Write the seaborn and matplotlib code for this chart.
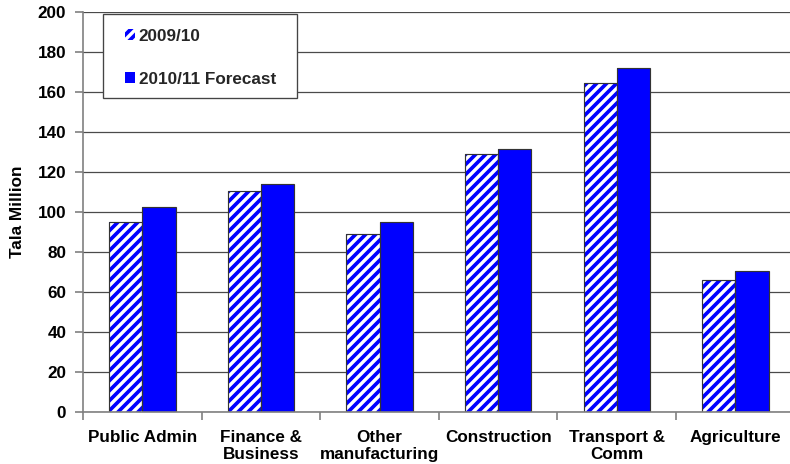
import matplotlib
matplotlib.use("Agg")
import matplotlib.pyplot as plt
import seaborn as sns
import pandas as pd
from matplotlib.patches import Rectangle
from matplotlib.ticker import FixedLocator

# ---- data ----
categories = ["Public Admin", "Finance &\nBusiness", "Other\nmanufacturing",
              "Construction", "Transport &\nComm", "Agriculture"]
series_names = ["2009/10", "2010/11 Forecast"]
values_2009_10 = [95, 110.5, 89, 129, 164.5, 66]
values_2010_11 = [102.5, 114, 95, 131.5, 172, 70.5]
y_ticks = list(range(0, 201, 20))

df = pd.DataFrame({
    "Sector": categories * 2,
    "Series": [series_names[0]] * len(categories) + [series_names[1]] * len(categories),
    "Value": values_2009_10 + values_2010_11,
})

BLUE = "#0000FF"
EDGE = "#333333"
FS = 10.3

sns.set_theme(style="white")
plt.rcParams['font.family'] = ['Liberation Sans', 'DejaVu Sans']
plt.rcParams['font.weight'] = 'bold'
plt.rcParams['hatch.linewidth'] = 2.2

DPI = 120
fig = plt.figure(figsize=(790 / DPI, 464 / DPI), dpi=DPI)
ax = fig.add_axes([83 / 790, 1 - 411.5 / 464, 707 / 790, (411.5 - 12) / 464])

# fill layer
sns.barplot(data=df, x="Sector", y="Value", hue="Series", order=categories,
            hue_order=series_names, palette=["white", BLUE], width=0.56,
            saturation=1, linewidth=0, legend=False, ax=ax, errorbar=None)
for p in ax.containers[0]:
    p.set_facecolor("white")
    p.set_edgecolor(BLUE)
    p.set_hatch("////")
    p.set_linewidth(0)
for p in ax.containers[1]:
    p.set_edgecolor(BLUE)
    p.set_linewidth(0)

# outline layer
sns.barplot(data=df, x="Sector", y="Value", hue="Series", order=categories,
            hue_order=series_names, palette=["white", BLUE], width=0.56,
            saturation=1, linewidth=0.7, legend=False, ax=ax, errorbar=None)
for cont in ax.containers[2:]:
    for p in cont:
        p.set_facecolor("none")
        p.set_edgecolor(EDGE)
        p.set_linewidth(0.7)

ax.set_axisbelow(True)
ax.set_xlim(-0.5, 5.46)
ax.set_ylim(0, 200)
ax.set_yticks(y_ticks)
ax.yaxis.grid(True, color="#4a4a4a", linewidth=0.75)
ax.xaxis.grid(False)

ax.xaxis.set_minor_locator(FixedLocator([i - 0.5 for i in range(len(categories) + 1)]))
ax.tick_params(axis="x", which="major", bottom=True, length=0, pad=11,
               labelsize=FS, labelcolor="black")
ax.tick_params(axis="x", which="minor", bottom=True, length=5, width=1,
               color="#808080", direction="out")
ax.tick_params(axis="y", which="major", left=True, length=5, width=1,
               color="#808080", direction="out", pad=5, labelsize=FS,
               labelcolor="black")
for lbl in ax.get_xticklabels():
    lbl.set_linespacing(1.15)
    lbl.set_fontweight("bold")
for lbl in ax.get_yticklabels():
    lbl.set_fontweight("bold")

for s in ["top", "right"]:
    ax.spines[s].set_visible(False)
for s in ["left", "bottom"]:
    ax.spines[s].set_color("#808080")
    ax.spines[s].set_linewidth(1.0)

ax.set_xlabel("")
ax.set_ylabel("Tala Million", fontsize=FS, fontweight="bold", color="black")
ax.yaxis.set_label_coords(-0.082, 0.5)

# legend frame
frame = Rectangle((103 / 790, 1 - 98 / 464), 194 / 790, 84 / 464,
                  transform=fig.transFigure, facecolor="white",
                  edgecolor="#444444", linewidth=0.8, zorder=1)
fig.add_artist(frame)

handles = [ax.containers[0][0], ax.containers[1][0]]
leg = fig.legend(handles, series_names, loc="upper left",
                 bbox_to_anchor=(125 / 790, 1 - 29 / 464),
                 bbox_transform=fig.transFigure, frameon=False, borderpad=0,
                 borderaxespad=0, handlelength=0.6, handleheight=0.6,
                 handletextpad=0.2, labelspacing=1.62,
                 prop={"size": FS, "weight": "bold"})
leg.set_zorder(5)

fig.savefig("out.png", dpi=DPI)
